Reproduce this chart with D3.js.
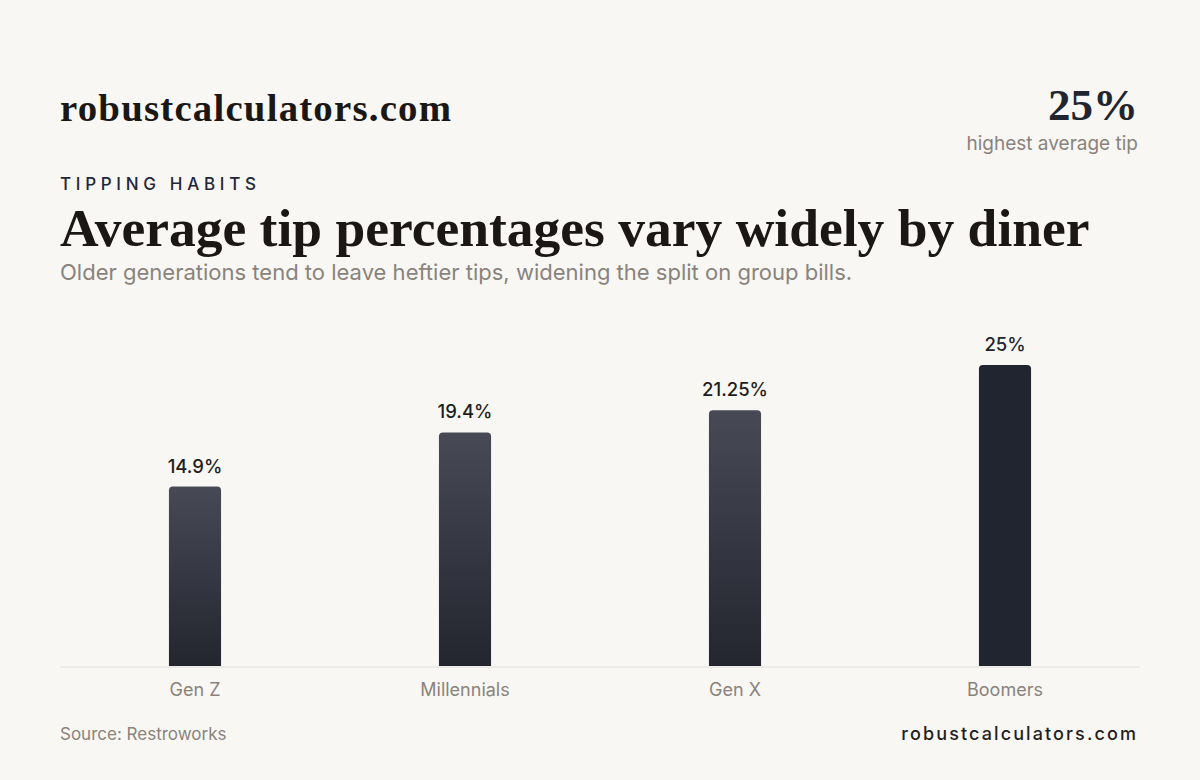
<!DOCTYPE html>
<html>
<head>
<meta charset="utf-8">
<script src="https://cdn.jsdelivr.net/npm/d3@7"></script>
<style>
  html, body { margin: 0; padding: 0; background: #f8f7f4; }
  svg { display: block; }
</style>
</head>
<body>
<div id="chart"></div>
<script>
// data
var generations = ["Gen Z", "Millennials", "Gen X", "Boomers"]
var tipValues = [14.9, 19.4, 21.25, 25]
var valueLabels = ["14.9%", "19.4%", "21.25%", "25%"]

var width = 1200, height = 780
var serif = "'Liberation Serif', 'DejaVu Serif', serif"
var sans = "Inter, 'Noto Sans', sans-serif"

var svg = d3.select("#chart").append("svg")
    .attr("width", width)
    .attr("height", height)

svg.append("rect").attr("width", width).attr("height", height).attr("fill", "#f8f7f4")

// gradient for regular bars
var defs = svg.append("defs")
var grad = defs.append("linearGradient")
    .attr("id", "barGrad")
    .attr("x1", 0).attr("y1", 0).attr("x2", 0).attr("y2", 1)
grad.append("stop").attr("offset", "0%").attr("stop-color", "#474a55")
grad.append("stop").attr("offset", "100%").attr("stop-color", "#23262f")

// scale the font so the text takes a given width
function fitText(sel, targetW) {
    var fs = parseFloat(sel.attr("font-size"))
    var w = sel.node().getComputedTextLength()
    sel.attr("font-size", fs * targetW / w)
}

// header
var brand = svg.append("text")
    .attr("x", 60).attr("y", 121)
    .attr("font-family", serif).attr("font-weight", 700)
    .attr("font-size", 38).attr("letter-spacing", 1.2)
    .attr("fill", "#1a1714")
    .text("robustcalculators.com")
fitText(brand, 393)

var big = svg.append("text")
    .attr("x", 1138).attr("y", 120)
    .attr("text-anchor", "end")
    .attr("font-family", serif).attr("font-weight", 700)
    .attr("font-size", 50)
    .attr("fill", "#21252f")
    .text("25%")
fitText(big, 90)

svg.append("text")
    .attr("x", 1138).attr("y", 150)
    .attr("text-anchor", "end")
    .attr("font-family", sans).attr("font-size", 19)
    .attr("fill", "#8a837c")
    .text("highest average tip")

svg.append("text")
    .attr("x", 60).attr("y", 190)
    .attr("font-family", sans).attr("font-weight", 500)
    .attr("font-size", 17).attr("letter-spacing", 4.7)
    .attr("fill", "#22263a")
    .text("TIPPING HABITS")

var title = svg.append("text")
    .attr("x", 60).attr("y", 246)
    .attr("font-family", serif).attr("font-weight", 700)
    .attr("font-size", 52)
    .attr("fill", "#1a1714")
    .text("Average tip percentages vary widely by diner")
fitText(title, 1030)

var sub = svg.append("text")
    .attr("x", 60).attr("y", 280)
    .attr("font-family", sans).attr("font-size", 22)
    .attr("fill", "#8a837c")
    .text("Older generations tend to leave heftier tips, widening the split on group bills.")
fitText(sub, 793)

// chart
var left = 60, right = 1140, baseY = 666
var x = d3.scaleBand()
    .domain(generations)
    .range([left, right])
    .paddingInner(0.807)
    .paddingOuter(0.4035)

var y = d3.scaleLinear()
    .domain([0, 25])
    .range([baseY, 365])

var maxVal = d3.max(tipValues)
var rows = generations.map(function(g, i) { return { name: g, value: tipValues[i], label: valueLabels[i] } })

function barPath(d) {
    var x0 = x(d.name), w = x.bandwidth(), y0 = y(d.value), r = 4
    return "M" + x0 + "," + baseY +
        "V" + (y0 + r) +
        "Q" + x0 + "," + y0 + " " + (x0 + r) + "," + y0 +
        "H" + (x0 + w - r) +
        "Q" + (x0 + w) + "," + y0 + " " + (x0 + w) + "," + (y0 + r) +
        "V" + baseY + "Z"
}

svg.append("g").selectAll("path")
    .data(rows)
    .enter()
    .append("path")
    .attr("d", barPath)
    .attr("fill", function(d) { return d.value === maxVal ? "#21252f" : "url(#barGrad)" })

svg.append("g").selectAll("text")
    .data(rows)
    .enter()
    .append("text")
    .attr("x", function(d) { return x(d.name) + x.bandwidth() / 2 })
    .attr("y", function(d) { return y(d.value) - 14 })
    .attr("text-anchor", "middle")
    .attr("font-family", sans).attr("font-weight", 500)
    .attr("font-size", 18.5)
    .attr("fill", function(d) { return d.value === maxVal ? "#21252f" : "#1f1e1c" })
    .text(function(d) { return d.label })

// x axis
var xAxis = svg.append("g")
    .attr("transform", "translate(0," + (baseY + 1) + ")")
    .call(d3.axisBottom(x).tickSize(0).tickPadding(16))
xAxis.select(".domain").attr("stroke", "#e2dfda").attr("d", "M" + left + ",0H" + right)
xAxis.selectAll("text")
    .attr("font-family", sans).attr("font-size", 18)
    .attr("fill", "#8a837c")

// footer
svg.append("text")
    .attr("x", 60).attr("y", 740)
    .attr("font-family", sans).attr("font-size", 17)
    .attr("fill", "#8a837c")
    .text("Source: Restroworks")

svg.append("text")
    .attr("x", 1138).attr("y", 740)
    .attr("text-anchor", "end")
    .attr("font-family", sans).attr("font-weight", 500)
    .attr("font-size", 18).attr("letter-spacing", 2.1)
    .attr("fill", "#1f1e1c")
    .text("robustcalculators.com")
</script>
</body>
</html>
